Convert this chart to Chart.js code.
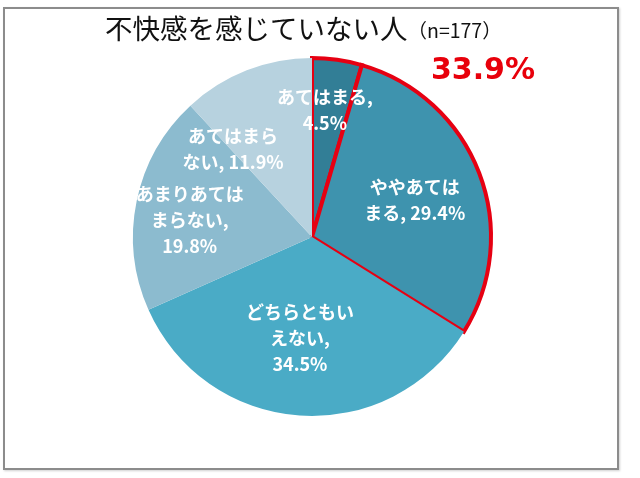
<!DOCTYPE html>
<html lang="ja">
<head>
<meta charset="utf-8">
<script src="https://cdn.jsdelivr.net/npm/chart.js@4/dist/chart.umd.min.js"></script>
<style>
  body { margin: 0; background: #fff; }
  #marco {
    position: absolute; left: 3px; top: 7px; width: 612px; height: 459px;
    border: 2px solid #8c8c8c; box-shadow: 1px 1px 2px #d0d0d0;
  }
  #grafico { position: absolute; left: 0; top: 0; }
</style>
</head>
<body>
<div id="marco"></div>
<canvas id="grafico" width="640" height="478"></canvas>
<script>
// Datos del gráfico
const categorias = ['あてはまる', 'ややあてはまる', 'どちらともいえない', 'あまりあてはまらない', 'あてはまらない'];
const porcentajes = [4.5, 29.4, 34.5, 19.8, 11.9];
const colores = ['#327e96', '#3e93ae', '#4aabc6', '#8cbbcf', '#b7d2df'];
// Texto de cada etiqueta, {v} se cambia por el valor
const lineasEtiqueta = [
    ['あてはまる,', '{v}'],
    ['ややあては', 'まる, {v}'],
    ['どちらともい', 'えない,', '{v}'],
    ['あまりあては', 'まらない,', '{v}'],
    ['あてはまら', 'ない, {v}']
];
const resaltados = [0, 1]; // sectores con borde rojo
const titulo = '不快感を感じていない人';
const subtitulo = '（n=177）';

// Posición de etiquetas: [ángulo en grados desde arriba, fracción del radio]
const posEtiquetas = [[5.8, 0.71], [70.2, 0.61], [186.8, 0.57], [277.9, 0.69], [318.1, 0.66]];
const posTotal = [45.9, 1.33];

const total = resaltados.reduce((s, i) => s + porcentajes[i], 0);

const pluginTextos = {
    id: 'textos',
    afterDatasetsDraw(chart) {
        const ctx = chart.ctx;
        const arc = chart.getDatasetMeta(0).data[0];
        const cx = arc.x, cy = arc.y, r = arc.outerRadius;
        const polar = (ang, f) => {
            const a = ang * Math.PI / 180;
            return [cx + Math.sin(a) * r * f, cy - Math.cos(a) * r * f];
        };
        ctx.save();
        ctx.textAlign = 'center';
        ctx.textBaseline = 'middle';
        ctx.fillStyle = '#fff';
        ctx.font = 'bold 18px "Noto Sans CJK JP"';
        lineasEtiqueta.forEach((lineas, i) => {
            const [x, y] = polar(posEtiquetas[i][0], posEtiquetas[i][1]);
            const alto = 26;
            const y0 = y - (lineas.length - 1) * alto / 2;
            lineas.forEach((l, j) => {
                ctx.fillText(l.replace('{v}', porcentajes[i].toFixed(1) + '%'), x, y0 + j * alto);
            });
        });

        // Total resaltado en rojo
        const [tx, ty] = polar(posTotal[0], posTotal[1]);
        ctx.fillStyle = '#e8000b';
        ctx.font = 'bold 30px "DejaVu Sans"';
        ctx.fillText(total.toFixed(1) + '%', tx, ty);

        // Título
        ctx.fillStyle = '#111';
        ctx.textAlign = 'left';
        ctx.font = '27.5px "Noto Sans CJK JP"';
        const w1 = ctx.measureText(titulo).width;
        const x0 = 105;
        ctx.fillText(titulo, x0, 29);
        ctx.font = '19.5px "Noto Sans CJK JP"';
        ctx.fillText(subtitulo, x0 + w1, 31);
        ctx.restore();
    }
};

const ctx = document.getElementById('grafico').getContext('2d');
const miGrafico = new Chart(ctx, {
    type: 'pie',
    data: {
        labels: categorias,
        datasets: [{
            data: porcentajes,
            backgroundColor: colores,
            borderColor: porcentajes.map((_, i) => resaltados.includes(i) ? '#e60012' : 'rgba(0,0,0,0)'),
            borderWidth: porcentajes.map((_, i) => resaltados.includes(i) ? 4 : 0),
            borderJoinStyle: 'miter',
            hoverOffset: 0,
            offset: 0
        }]
    },
    options: {
        responsive: false,
        animation: false,
        radius: 179,
        layout: { padding: { left: 133, right: 149, top: 58, bottom: 62 } },
        plugins: {
            legend: { display: false },
            tooltip: { enabled: false }
        },
        events: []
    },
    plugins: [pluginTextos]
});
</script>
</body>
</html>
